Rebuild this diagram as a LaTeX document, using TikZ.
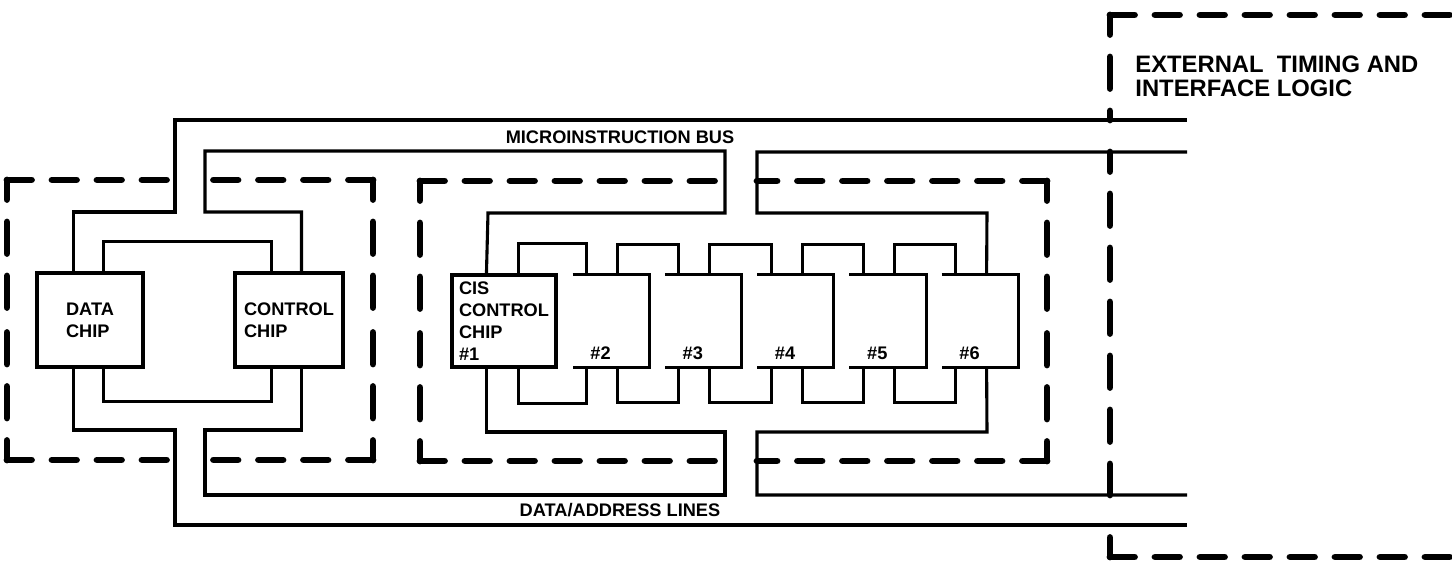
\documentclass[tikz,border=0pt]{standalone}
\usepackage{fontspec}
\setmainfont{Liberation Sans}
\usetikzlibrary{calc}
\newcommand{\lblfont}{\bfseries\fontsize{9.1}{11}\selectfont}
\newcommand{\extfont}{\bfseries\fontsize{11.9}{12}\selectfont}
\begin{document}
\begin{tikzpicture}[x=0.5pt,y=-0.5pt,
  wire/.style={line width=1.55pt},
  chip/.style={draw,line width=1.55pt,inner sep=0pt},
  openchip/.style={inner sep=0pt,minimum width=38pt,minimum height=46pt},
  hd/.style={line width=3.4pt,line cap=round,line join=round,dash pattern=on 12.25pt off 10.25pt},
  vd/.style={line width=3.4pt,line cap=round,line join=round,dash pattern=on 15.75pt off 11.25pt,dash phase=6pt},
  lbl/.style={font=\lblfont,inner sep=0pt,align=left}]
\useasboundingbox (0,0) rectangle (1452,567);

% ---- chips ----
\node[chip,minimum width=53pt,minimum height=47pt] (data) at (90,320) {};
\node[chip,minimum width=54pt,minimum height=47pt] (control) at (289,320) {};
\node[chip,minimum width=52pt,minimum height=46pt] (cis1) at (504,321) {};
\foreach \k/\cx in {2/611,3/703.25,4/795.5,5/887.75,6/980}{
  \node[openchip] (c\k) at (\cx,321) {};
  \draw[wire] (c\k.north west) -- (c\k.north east) -- (c\k.south east) -- (c\k.south west);
}

% ---- loops between data and control chip ----
\draw[wire] ($(data.north west)+(68,0)$) -- ++(0,-30) -| ($(control.north west)+(38,0)$);
\draw[wire] ($(data.south west)+(68,0)$) -- ++(0,33) -| ($(control.south west)+(38,0)$);

% ---- loops between CIS chips ----
\draw[wire] ($(cis1.north west)+(68,0)$) -- ++(0,-30) -| ($(c2.north west)+(14,0)$);
\draw[wire] ($(cis1.south west)+(68,0)$) -- ++(0,35) -| ($(c2.south west)+(14,0)$);
\foreach \k/\n in {2/3,3/4,4/5,5/6}{
  \draw[wire] ($(c\k.north west)+(45,0)$) -- ++(0,-30) -| ($(c\n.north west)+(14,0)$);
  \draw[wire] ($(c\k.south west)+(45,0)$) -- ++(0,35) -| ($(c\n.south west)+(14,0)$);
}

% ---- microinstruction bus ----
\coordinate (mbr1) at (1187,120);
\coordinate (mbr2) at (1187,152);
\draw[wire] ($(data.north west)+(38,0)$) |- (175,212) |- (mbr1);
\draw[wire] ($(control.north west)+(68,0)$) |- (205,212) |- (725,151) |- (488,213) -- ($(cis1.north west)+(36,0)$);
\draw[wire] (mbr2) -- (757,152) |- (987,213) -- ($(c6.north west)+(45,0)$);

% ---- data/address lines ----
\coordinate (dar1) at (1187,495);
\coordinate (dar2) at (1187,525);
\draw[wire] ($(data.south west)+(38,0)$) |- (175,430) |- (dar2);
\draw[wire] ($(control.south west)+(68,0)$) |- (205,430) |- (725,495) -- (725,432) -| ($(cis1.south west)+(36,0)$);
\draw[wire] (dar1) -- (757,495) |- (987,432) -- ($(c6.south west)+(45,0)$);

% ---- dashed box: data + control ----
\draw[hd] (7,180) -- (175,180);   \draw[hd] (373,180) -- (205,180);
\draw[hd] (7,460) -- (175,460);   \draw[hd] (373,460) -- (205,460);
\draw[vd] (7,180) -- (7,320);     \draw[vd] (7,460) -- (7,320);
\draw[vd] (373,180) -- (373,320); \draw[vd] (373,460) -- (373,320);

% ---- dashed box: CIS chips ----
\draw[hd] (420,181) -- (725,181);   \draw[hd] (1047,181) -- (757,181);
\draw[hd] (420,461) -- (725,461);   \draw[hd] (1047,461) -- (757,461);
\draw[vd] (420,181) -- (420,321);   \draw[vd] (420,461) -- (420,321);
\draw[vd] (1047,181) -- (1047,321); \draw[vd] (1047,461) -- (1047,321);

% ---- external timing and interface logic ----
\draw[hd] (1110,15) -- (1452,15);
\draw[hd] (1110,557) -- (1452,557);
\draw[vd] (1110,15) -- (1110,120);
\draw[vd] (1110,152) -- (1110,495);
\draw[vd] (1110,557) -- (1110,525);

% ---- texts ----
\node[lbl] (tdata) at (data.center) {DATA\\CHIP};
\node[lbl] (tcontrol) at (control.center) {CONTROL\\CHIP};
\node[lbl] (tcis) at (cis1.center) {CIS\\CONTROL\\CHIP\\\#1};
\foreach \k in {2,...,6}{
  \node[lbl] (n\k) at ($(c\k.south west)+(28,-14)$) {\#\k};
}
\node[lbl] (mib) at (620,137) {MICROINSTRUCTION BUS};
\node[lbl] (dal) at (620,510) {DATA/ADDRESS LINES};
\node[font=\extfont,inner sep=0pt,anchor=north west,align=left] (ext) at (1135,55) {EXTERNAL\ \ TIMING AND\\INTERFACE LOGIC};
\end{tikzpicture}
\end{document}
